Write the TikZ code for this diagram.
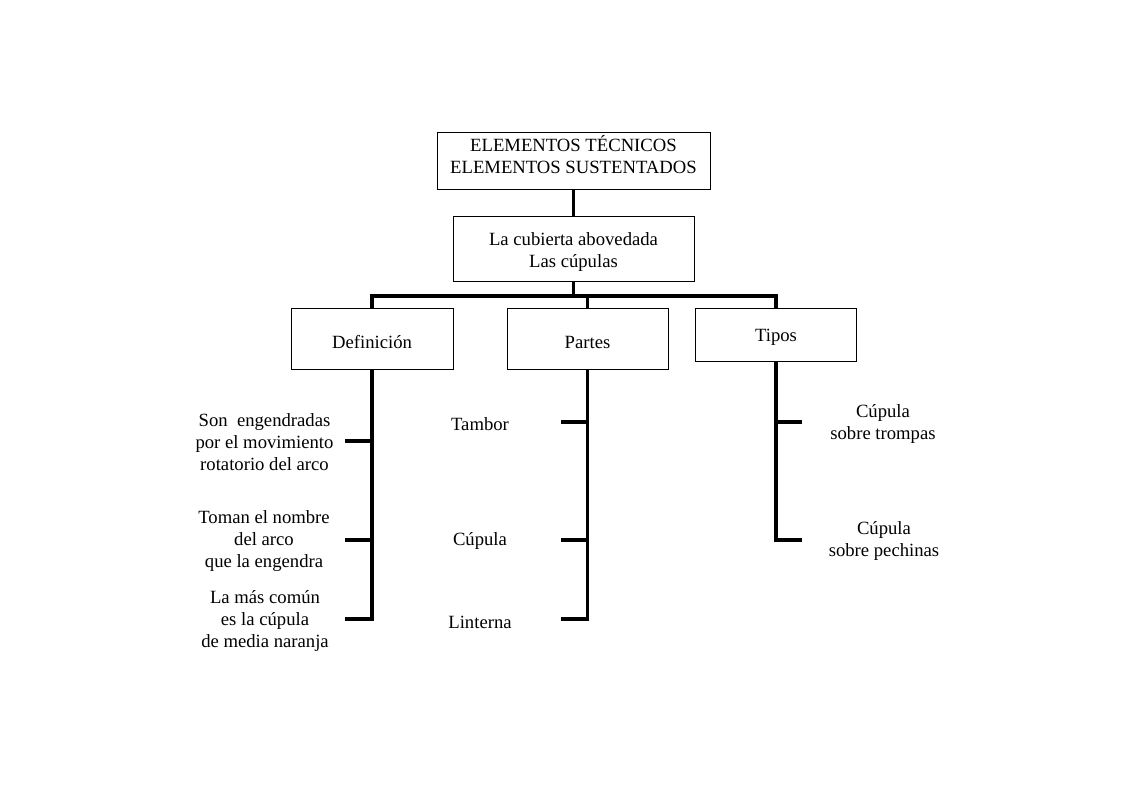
\documentclass[tikz,border=0pt]{standalone}
\usepackage{fontspec}
\setmainfont{Liberation Serif}
\begin{document}
\begin{tikzpicture}[x=0.75pt,y=-0.75pt,
	caja/.style={draw,line width=0.6pt,inner sep=0pt},
	rama/.style={line width=2.8pt},
	texto/.style={align=center,inner sep=0pt}]
	\useasboundingbox (0,0) rectangle (1122,793);
	\fontsize{14pt}{16.5pt}\selectfont
	\node [caja,minimum width=204.75pt,minimum height=42.75pt] (top) at (573.5,160.5) {};
	\node [caja,minimum width=180.75pt,minimum height=48.75pt] (sub) at (573.5,248.5) {};
	\node [caja,minimum width=121.5pt,minimum height=45.75pt] (def) at (372,338.5) {};
	\node [caja,minimum width=120.75pt,minimum height=45.75pt] (par) at (587.5,338.5) {};
	\node [caja,minimum width=120.75pt,minimum height=39.75pt] (tip) at (776,334.5) {};
	\node [texto] (topt) at (573.5,154.5) {ELEMENTOS TÉCNICOS\\ELEMENTOS SUSTENTADOS};
	\node [texto] (subt) at (573.5,252) {La cubierta abovedada\\Las cúpulas};
	\node [texto] (deft) at (372,342) {Definición};
	\node [texto] (part) at (587.5,342) {Partes};
	\node [texto] (tipt) at (776,337) {Tipos};
	\coordinate (bar) at (573.5,296);
	\draw [rama] (top.south) -- (sub.north);
	\draw [rama] (sub.south) -- (bar);
	\draw [rama] (def.north) |- (bar) (par.north) |- (bar) (tip.north) |- (bar);
	% Definicion
	\coordinate (d1) at (345,441);
	\coordinate (d2) at (345,540);
	\coordinate (d3) at (345,619);
	\draw [rama] (def.south) |- (d3) (d1) -- (d1 -| def.south) (d2) -- (d2 -| def.south);
	\node [texto] (t1) at (264.5,442) {Son~~engendradas\\por el movimiento\\rotatorio del arco};
	\node [texto] (t2) at (264,541) {Toman el nombre\\del arco\\que la engendra};
	\node [texto] (t3) at (265,621) {La más común\\es la cúpula\\de media naranja};
	% Partes
	\coordinate (p1) at (561,422);
	\coordinate (p2) at (561,540);
	\coordinate (p3) at (561,619);
	\draw [rama] (par.south) |- (p3) (p1) -- (p1 -| par.south) (p2) -- (p2 -| par.south);
	\node [texto] (s1) at (480,424) {Tambor};
	\node [texto] (s2) at (480,541) {Cúpula};
	\node [texto] (s3) at (480,622) {Linterna};
	% Tipos
	\coordinate (q1) at (802,422);
	\coordinate (q2) at (802,540);
	\draw [rama] (tip.south) |- (q2) (q1) -- (q1 -| tip.south);
	\node [texto] (u1) at (883,423.5) {Cúpula\\sobre trompas};
	\node [texto] (u2) at (884,541) {Cúpula\\sobre pechinas};
\end{tikzpicture}
\end{document}
